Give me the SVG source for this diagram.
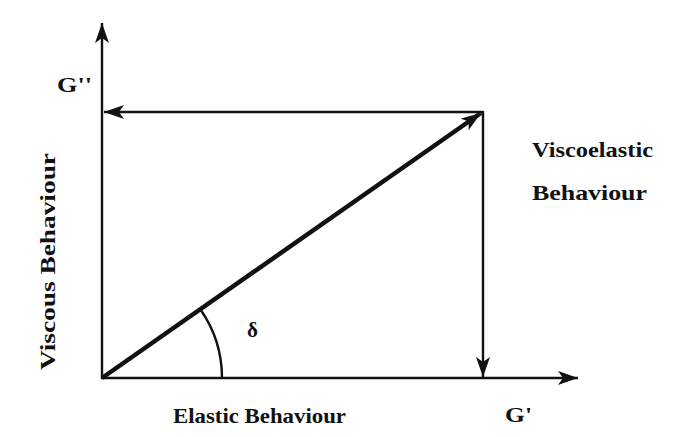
<svg xmlns="http://www.w3.org/2000/svg" width="676" height="437" viewBox="0 0 676 437">
<style>
.t{font-family:"Liberation Serif","DejaVu Serif",serif;font-weight:bold;font-size:21px;fill:#111}
.ln{stroke:#111;fill:none;stroke-width:2.4}
</style>
<defs>
<marker id="ah" viewBox="0 0 20 14" refX="20" refY="7" markerWidth="20" markerHeight="14" markerUnits="userSpaceOnUse" orient="auto">
<path d="M0,0 L20,7 L0,14 L5,7 Z" fill="#111"/>
</marker>
</defs>
<rect width="676" height="437" fill="#fff"/>
<g id="connectors">
<line class="ln" x1="102" y1="379" x2="102" y2="23" marker-end="url(#ah)"/>
<line class="ln" x1="101" y1="378" x2="578" y2="378" marker-end="url(#ah)"/>
<line class="ln" x1="483" y1="112" x2="104" y2="112" marker-end="url(#ah)"/>
<line class="ln" x1="483" y1="111" x2="483" y2="377" marker-end="url(#ah)"/>
<line x1="102" y1="378" x2="481" y2="113" stroke="#111" stroke-width="4.5" marker-end="url(#ah)"/>
<path class="ln" d="M222,378 A120,120 0 0 0 200.3,309.2" stroke-width="1.8"/>
</g>
<g id="labels">
<text class="t" x="57" y="92" textLength="35" lengthAdjust="spacingAndGlyphs">G''</text>
<text class="t" x="505" y="422" textLength="27" lengthAdjust="spacingAndGlyphs">G'</text>
<text class="t" x="247" y="337" font-size="20">δ</text>
<text class="t" x="532" y="157" textLength="121" lengthAdjust="spacingAndGlyphs">Viscoelastic</text>
<text class="t" x="532" y="200" textLength="115" lengthAdjust="spacingAndGlyphs">Behaviour</text>
<text class="t" x="173" y="423" textLength="173" lengthAdjust="spacingAndGlyphs">Elastic Behaviour</text>
<text class="t" transform="translate(55,370) rotate(-90)" textLength="217" lengthAdjust="spacingAndGlyphs">Viscous Behaviour</text>
</g>
</svg>
